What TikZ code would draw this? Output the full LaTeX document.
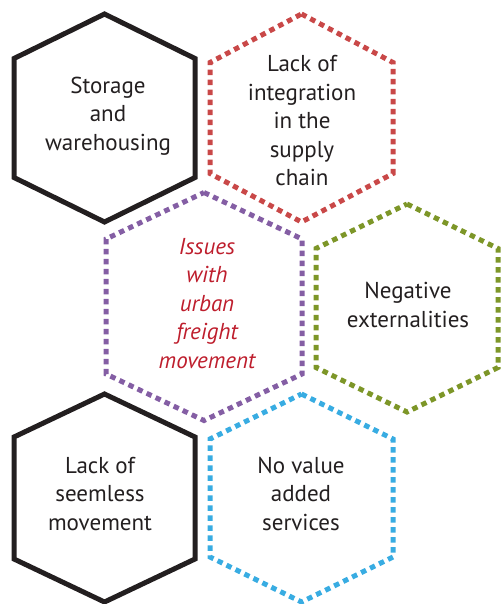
\documentclass[tikz,border=0pt]{standalone}
\usepackage{fontspec}
\setmainfont{PT Sans}
\definecolor{dotred}{RGB}{201,72,72}
\definecolor{dotpurple}{RGB}{132,94,164}
\definecolor{dotgreen}{RGB}{125,150,40}
\definecolor{dotblue}{RGB}{56,172,226}
\definecolor{txtred}{RGB}{190,30,45}
\definecolor{txtdark}{RGB}{35,31,32}
\newcommand{\hexa}[6]{%
  \draw[#1] ({#2},{#3-#5}) -- ({#2+#4},{#3-#6}) -- ({#2+#4},{#3+#6}) -- ({#2},{#3+#5}) -- ({#2-#4},{#3+#6}) -- ({#2-#4},{#3-#6}) -- cycle;}
\tikzset{
  solidhex/.style={draw=txtdark, line width=5pt, line join=miter},
  dothex/.style={line width=5pt, dash pattern=on 5.5pt off 4.5pt},
  label/.style={align=center, text=txtdark, font=\fontsize{23}{28.5}\selectfont, inner sep=0pt},
  redlabel/.style={label, text=txtred, font=\fontsize{23}{28.5}\selectfont\itshape}
}
\begin{document}
\begin{tikzpicture}[x=1pt,y=-1pt]
\useasboundingbox (0,0) rectangle (500,604);
\hexa{solidhex}{104.5}{118}{90.5}{104}{59.5}
\hexa{dothex,draw=dotred}{301.5}{118}{91.5}{104}{55.5}
\hexa{dothex,draw=dotpurple}{204}{306.5}{98}{114}{67.5}
\hexa{dothex,draw=dotgreen}{407}{308}{91}{104}{59.5}
\hexa{solidhex}{104.5}{498}{90.5}{104}{61}
\hexa{dothex,draw=dotblue}{301.5}{498}{91.5}{104}{59}
\node[label] (storage) at (108,116) {Storage\\and\\warehousing};
\node[label] (integration) at (302,121) {Lack of\\integration\\in the\\supply\\chain};
\node[redlabel] (issues) at (207,303.5) {Issues\\with\\urban\\freight\\movement};
\node[label] (negative) at (408,305) {Negative\\externalities};
\node[label] (seemless) at (100,494) {Lack of\\seemless\\movement};
\node[label] (novalue) at (301,493.5) {No value\\added\\services};
\end{tikzpicture}
\end{document}
